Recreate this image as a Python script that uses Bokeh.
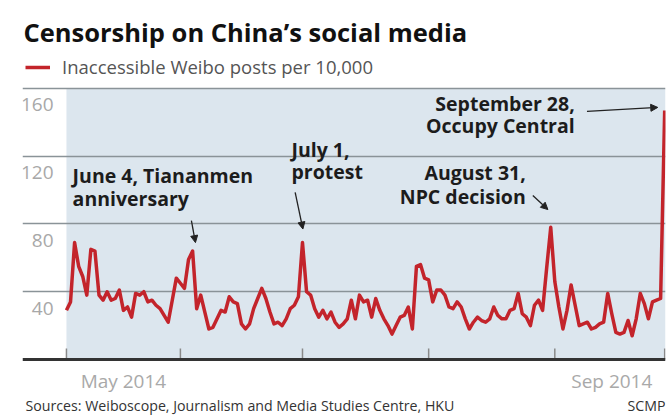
import pandas as pd
from datetime import timedelta
from bokeh.plotting import figure
from bokeh.models import (Range1d, FixedTicker, BoxAnnotation, Label, Arrow,
                          NormalHead, Legend, LegendItem, Span)
from bokeh.core.properties import value
from bokeh.embed import file_html
from bokeh.resources import INLINE

# ---------------- data ----------------
START_DATE = "2014-05-04"
posts_per_10000 = [
    29, 34, 69, 55, 49, 38, 65, 64, 38, 35,
    40, 35, 36, 41, 29, 31, 25, 39, 38, 40,
    34, 35, 32, 30, 26, 22, 35, 48, 45, 42,
    59, 64, 30, 38, 28, 18, 19, 24, 29, 28,
    37, 34, 33, 21, 18, 21, 30, 36, 42, 36,
    28, 21, 22, 20, 24, 30, 32, 37, 69, 40,
    38, 30, 25, 29, 24, 28, 22, 19, 21, 24,
    35, 24, 38, 34, 35, 25, 36, 29, 24, 20,
    15, 20, 25, 26, 31, 18, 55, 56, 48, 47,
    34, 41, 41, 38, 31, 30, 34, 31, 24, 18,
    22, 25, 23, 22, 24, 31, 26, 24, 24, 29,
    30, 39, 27, 25, 20, 32, 35, 29, 54, 78,
    46, 31, 18, 29, 44, 32, 20, 21, 22, 18,
    19, 21, 22, 39, 27, 16, 15, 16, 23, 14,
    24, 39, 33, 24, 34, 35, 36, 147,
]
dates = pd.date_range(START_DATE, periods=len(posts_per_10000), freq="D")

y_ticks = [40, 80, 120, 160]
month_boundaries = ["2014-05-04", "2014-06-01", "2014-07-01", "2014-08-01",
                    "2014-09-01", "2014-09-28"]
month_label_dates = ["2014-05-18", "2014-09-15"]
month_labels = ["May 2014", "Sep 2014"]

events = ["2014-06-04", "2014-07-01", "2014-08-31", "2014-09-28"]
event_texts = [["June 4, Tiananmen", "anniversary"],
               ["July 1,", "protest"],
               ["August 31,", "NPC decision"],
               ["September 28,", "Occupy Central"]]

TITLE = "Censorship on China\u2019s social media"
SERIES = "Inaccessible Weibo posts per 10,000"
SOURCE = "Sources: Weiboscope, Journalism and Media Studies Centre, HKU"
CREDIT = "SCMP"

# ---------------- helpers ----------------
def ms(ts):
    return pd.Timestamp(ts).value / 1e6

def day(n):
    return ms(pd.Timestamp(START_DATE) + timedelta(days=n))

# ---------------- figure ----------------
x0 = pd.Timestamp(START_DATE) - timedelta(days=10.8)
x1 = pd.Timestamp(START_DATE) + timedelta(days=147.2)

p = figure(width=667, height=415, title=None,
           x_axis_location=None, y_axis_location=None,
           x_range=Range1d(x0, x1), y_range=Range1d(-33.06, 211.9),
           output_backend="svg", toolbar_location=None,
           min_border_left=22, min_border_right=2, min_border_top=0,
           min_border_bottom=0)
p.outline_line_color = None
p.background_fill_color = "white"
p.border_fill_color = "white"

# blue plot background (from first data day to right edge, 0..160)
p.add_layout(BoxAnnotation(left=ms(dates[0]), bottom=0, top=160,
                           fill_color="#dce6ee", fill_alpha=1.0,
                           line_color=None, level="image"))

p.xgrid.visible = False
p.ygrid.ticker = FixedTicker(ticks=y_ticks)
p.ygrid.grid_line_color = "#8a9398"
p.ygrid.grid_line_width = 1.6

# y tick labels, sitting below their grid lines
p.text(x=[x0] * len(y_ticks), y=y_ticks, text=[str(t) for t in y_ticks],
       x_offset=31, y_offset=10, text_align="right", text_baseline="top",
       text_font=value("Open Sans"), text_font_size="19px", text_color="#a8a8a8")

# x axis: baseline, month tick marks, month labels
n_b = len(month_boundaries)
p.segment(x0=[ms(d) for d in month_boundaries], y0=[0] * n_b,
          x1=[ms(d) for d in month_boundaries], y1=[6.5] * n_b,
          line_color="#8a8a8a", line_width=1.5)
p.add_layout(Span(location=0, dimension="width", line_color="#333333",
                  line_width=3))
p.text(x=[ms(d) for d in month_label_dates], y=[0] * len(month_labels),
       text=month_labels, y_offset=9, text_align="center", text_baseline="top",
       text_font=value("Open Sans"), text_font_size="19px", text_color="#a9a9a9")

# series
r = p.line(dates, posts_per_10000, line_color="#c3242b", line_width=3.5,
           line_join="round")

legend = Legend(items=[LegendItem(label=SERIES, renderers=[r])],
                location=(3, 336), glyph_width=25, glyph_height=20,
                label_standoff=12, padding=0, margin=0, spacing=0,
                border_line_color=None, background_fill_alpha=0,
                label_text_font="Open Sans", label_text_font_size="18.5px",
                label_text_color="#555555")
p.add_layout(legend)

# title
p.add_layout(Label(x=1, y=383.5, x_units="screen", y_units="screen", text=TITLE,
                   text_font="Open Sans", text_font_style="bold",
                   text_font_size="25.5px", text_color="#111111",
                   text_baseline="alphabetic"))

# event annotations
ann_style = [("left", -120, [108.6, 95.0]),
             ("left", -11, [124.0, 111.0]),
             ("right", -25, [110.4, 96.2]),
             ("right", -90, [151.1, 138.1])]
for ev, lines, (align, xoff, ys) in zip(events, event_texts, ann_style):
    for line, yv in zip(lines, ys):
        p.add_layout(Label(x=ms(ev), y=yv, x_offset=xoff, text=line,
                           text_align=align, text_baseline="alphabetic",
                           text_font="Open Sans", text_font_style="bold",
                           text_font_size="19.5px", text_color="#1c1c1c"))

arrows = [((30.7, 82), (31.7, 69)),
          ((56.2, 98.6), (58.1, 77)),
          ((114.6, 96.8), (118.3, 88.5)),
          ((127.9, 146.4), (145.3, 148.8))]
for (sx, sy), (ex, ey) in arrows:
    p.add_layout(Arrow(end=NormalHead(size=7, fill_color="#222222",
                                      line_color="#222222"),
                       x_start=day(sx), y_start=sy, x_end=day(ex), y_end=ey,
                       line_color="#222222", line_width=1.3))

# footer
p.add_layout(Label(x=3, y=10.5, x_units="screen", y_units="screen", text=SOURCE,
                   text_font="Open Sans", text_font_size="14.2px",
                   text_color="#333333", text_baseline="alphabetic"))
p.add_layout(Label(x=643, y=10.5, x_units="screen", y_units="screen", text=CREDIT,
                   text_font="Open Sans", text_font_size="14.2px",
                   text_color="#333333", text_baseline="alphabetic",
                   text_align="right"))

open("out.html", "w").write(file_html(p, INLINE))
